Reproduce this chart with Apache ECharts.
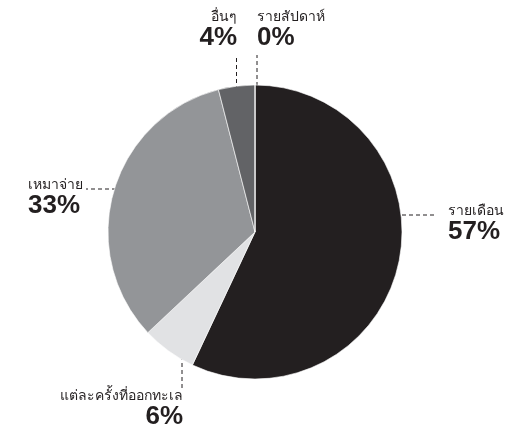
<!DOCTYPE html>
<html>
<head>
<meta charset="utf-8">
<script src="https://cdn.jsdelivr.net/npm/echarts@6/dist/echarts.min.js"></script>
<style>
  html, body { margin: 0; padding: 0; background: #fff; }
  #chart { width: 518px; height: 434px; }
</style>
</head>
<body>
<div id="chart"></div>
<script>
// Payment frequency shares (percent), clockwise from 12 o'clock
const categories = ['รายเดือน', 'แต่ละครั้งที่ออกทะเล', 'เหมาจ่าย', 'อื่นๆ', 'รายสัปดาห์'];
const shares = [57, 6, 33, 4, 0];

const sliceColors = ['#231f20', '#e1e2e4', '#939598', '#626366', '#231f20'];

// Label anchor (x, top y, alignment) and dashed leader-line path for each slice
const labelSpots = [
  { x: 448, y: 203, align: 'left',  line: [[402, 215], [420, 215], [437, 215]] },
  { x: 183, y: 388, align: 'right', line: [[182, 335], [182, 362], [182, 389]] },
  { x: 28,  y: 177, align: 'left',  line: [[165, 189], [125, 189], [86, 189]] },
  { x: 237, y: 9,   align: 'right', line: [[236.5, 104], [236.5, 80], [236.5, 55]] },
  { x: 257, y: 9,   align: 'left',  line: [[257, 86], [257, 70], [257, 55]] }
];

const chart = echarts.init(document.getElementById('chart'), null, { renderer: 'canvas' });

const data = categories.map((name, i) => ({
  name: name,
  value: shares[i],
  itemStyle: { color: sliceColors[i] },
  label: { align: labelSpots[i].align }
}));

chart.setOption({
  animation: false,
  series: [{
    type: 'pie',
    center: [255, 232],
    radius: 147,
    startAngle: 90,
    clockwise: true,
    avoidLabelOverlap: false,
    minShowLabelAngle: 0,
    data: data,
    itemStyle: { borderColor: '#ffffff', borderWidth: 0.6 },
    label: {
      show: true,
      position: 'outside',
      formatter: '{n|{b}}\n{p|{c}%}',
      color: '#231f20',
      rich: {
        n: { fontFamily: '"Noto Sans", sans-serif', fontSize: 14, lineHeight: 16, color: '#231f20' },
        p: { fontFamily: '"Liberation Sans", Arial, sans-serif', fontSize: 26, fontWeight: 'bold', lineHeight: 26, color: '#231f20' }
      }
    },
    labelLine: {
      show: true,
      lineStyle: { color: '#231f20', width: 1, type: [4, 3] }
    },
    labelLayout: function (params) {
      const s = labelSpots[params.dataIndex];
      return {
        x: s.x,
        y: s.y,
        align: s.align,
        verticalAlign: 'top',
        labelLinePoints: s.line
      };
    }
  }]
});
</script>
</body>
</html>
